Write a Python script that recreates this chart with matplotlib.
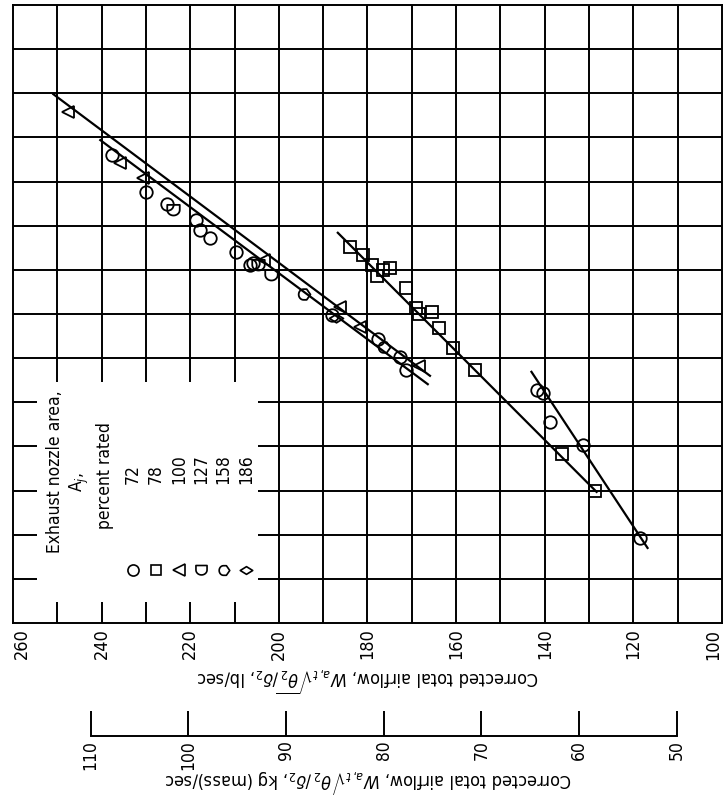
import matplotlib
matplotlib.use("Agg")
import matplotlib.pyplot as plt
import numpy as np
from matplotlib import font_manager
from matplotlib.path import Path

# pick a narrow face if one is installed, the scan uses a condensed type
_faces = font_manager.fontManager.ttflist
_names = {f.name for f in _faces}
if "Liberation Sans Narrow" in _names:
    plt.rcParams["font.family"] = ["Liberation Sans Narrow", "DejaVu Sans"]
else:
    plt.rcParams["font.family"] = ["DejaVu Sans"]
    plt.rcParams["font.stretch"] = "condensed"

LB_PER_KG = 2.2046

# Data: corrected airflow (lb/sec) vs ordinate in grid units
circ_x = [237.6, 229.9, 225.2, 218.6, 217.7, 215.5, 209.6, 206.5, 205.8, 188.0, 177.7, 172.7, 171.4]
circ_y = [10.60, 9.76, 9.49, 9.13, 8.90, 8.72, 8.41, 8.11, 8.16, 6.98, 6.43, 6.03, 5.73]
circ2_x = [141.8, 140.5, 138.9, 131.3, 118.6]
circ2_y = [5.28, 5.21, 4.55, 4.03, 1.93]
sq_x = [184.0, 181.0, 179.0, 177.9, 176.5, 175.0, 171.4, 169.1, 168.4, 165.5, 163.9, 160.8, 155.8, 136.0, 128.6]
sq_y = [8.52, 8.34, 8.11, 7.86, 8.00, 8.04, 7.59, 7.14, 7.00, 7.05, 6.68, 6.23, 5.73, 3.83, 2.99]
tri_x = [247.7, 235.8, 230.6, 203.3, 186.2, 181.7, 168.4]
tri_y = [11.58, 10.42, 10.08, 8.22, 7.16, 6.71, 5.82]
d127_x = [223.8, 204.7, 201.8]
d127_y = [9.36, 8.11, 7.88]
hex158_x = [194.5, 176.5]
hex158_y = [7.45, 6.25]
dia186_x = [187.0]
dia186_y = [6.90]

# faired curves (end points)
fair_a_x, fair_a_y = [250.9, 165.9], [11.98, 5.60]
fair_b_x, fair_b_y = [240.3, 166.4], [10.94, 5.41]
fair_c_x, fair_c_y = [186.7, 128.3], [8.84, 2.97]
fair_d_x, fair_d_y = [143.0, 116.8], [5.69, 1.70]

legend_labels = ["72", "78", "100", "127", "158", "186"]
lb_ticks = list(range(100, 261, 20))
kg_ticks = list(range(50, 111, 10))


def d_marker():
    t = np.linspace(0, -np.pi, 20)
    verts = [(-1, 0.9), (1, 0.9)] + list(zip(np.cos(t), 0.1 + 0.9 * np.sin(t)))
    verts.append((-1, 0.9))
    return Path(verts, closed=True)


def hex_marker():
    t = np.linspace(np.pi / 2, 3 * np.pi / 2, 20)
    verts = list(zip(0.9 * np.cos(t), np.sin(t))) + [(0.6, -1), (1.3, 0), (0.6, 1), (0, 1)]
    return Path(verts, closed=True)


def diamond_marker():
    return Path([(-1.3, 0), (0, 0.8), (1.3, 0), (0, -0.8), (-1.3, 0)], closed=True)


markers = ["o", "s", "<", d_marker(), hex_marker(), diamond_marker()]
sizes = [9, 8, 9, 9, 10, 10]

W, H = 723, 795
fig = plt.figure(figsize=(W / 100, H / 100), dpi=100)
left, right, top, bottom = 13, 722, 5, 623
ax = fig.add_axes([left / W, 1 - bottom / H, (right - left) / W, (bottom - top) / H])
ax.set_xlim(260, 100)
ax.set_ylim(0, 14)

lw = 1.4
# grid, with the legend box kept clear except edge stubs
for gx in range(110, 260, 10):
    if gx > 200:
        ax.vlines(gx, 6, 14, color="k", lw=lw)
        ax.vlines(gx, 0, 0.48, color="k", lw=lw)
        ax.vlines(gx, 5.45, 6, color="k", lw=lw)
    else:
        ax.vlines(gx, 0, 14, color="k", lw=lw)
for gy in range(1, 14):
    if gy < 6:
        ax.hlines(gy, 200, 100, color="k", lw=lw)
        ax.hlines(gy, 260, 254.6, color="k", lw=lw)
        ax.hlines(gy, 204.7, 200, color="k", lw=lw)
    else:
        ax.hlines(gy, 260, 100, color="k", lw=lw)

for sp in ax.spines.values():
    sp.set_linewidth(lw)

for fx, fy in [(fair_a_x, fair_a_y), (fair_b_x, fair_b_y), (fair_c_x, fair_c_y), (fair_d_x, fair_d_y)]:
    ax.plot(fx, fy, color="k", lw=1.6, zorder=3)

series = [
    (circ_x + circ2_x, circ_y + circ2_y, 0),
    (sq_x, sq_y, 1),
    (tri_x, tri_y, 2),
    (d127_x, d127_y, 3),
    (hex158_x, hex158_y, 4),
    (dia186_x, dia186_y, 5),
]
for xs, ys, i in series:
    ax.plot(xs, ys, ls="none", marker=markers[i], ms=sizes[i], mfc="none",
            mec="k", mew=1.3, zorder=4)

ax.set_xticks(lb_ticks)
ax.set_xticklabels([str(v) for v in lb_ticks], rotation=90, fontsize=13)
ax.tick_params(axis="x", length=0, pad=4)
ax.get_xticklabels()[0].set_horizontalalignment("right")
ax.get_xticklabels()[-1].set_horizontalalignment("left")
ax.set_yticks([])

# legend (rotated like the rest of the sheet)
fig.text(55 / W, 1 - 472 / H, "Exhaust nozzle area,", rotation=90, ha="center", va="center", fontsize=12.5)
fig.text(79 / W, 1 - 482 / H, r"A$_j$,", rotation=90, ha="center", va="center", fontsize=12.5)
fig.text(105 / W, 1 - 476 / H, "percent rated", rotation=90, ha="center", va="center", fontsize=12.5)
leg_x = [133, 156, 179, 201, 223, 246]
for i, lab in enumerate(legend_labels):
    fig.text(leg_x[i] / W, 1 - 484 / H, lab, rotation=90, rotation_mode="anchor",
             ha="left", va="center", fontsize=12.5)
    ax.plot([(leg_x[i] - left) / (right - left)], [(bottom - 570) / (bottom - top)],
            transform=ax.transAxes, ls="none", marker=markers[i], ms=sizes[i] - 1,
            mfc="none", mec="k", mew=1.2, clip_on=False)

fig.text(368 / W, 1 - 680 / H, r"Corrected total airflow, $W_{a,t}\sqrt{\theta_2}/\delta_2$, lb/sec",
         rotation=180, ha="center", va="center", fontsize=13)

# secondary kg/sec scale
ax2 = fig.add_axes([left / W, 1 - 736 / H, (right - left) / W, 0.0001])
ax2.set_xlim(260 / LB_PER_KG, 100 / LB_PER_KG)
ax2.set_ylim(0, 1)
for name in ["top", "left", "right"]:
    ax2.spines[name].set_visible(False)
ax2.spines["bottom"].set_bounds(50, 110)
ax2.spines["bottom"].set_linewidth(lw)
ax2.set_yticks([])
ax2.set_xticks(kg_ticks)
ax2.set_xticklabels([str(v) for v in kg_ticks], rotation=90, fontsize=12.5)
ax2.tick_params(axis="x", direction="in", length=18, width=lw, pad=3)
ax2.patch.set_visible(False)

fig.text(368 / W, 1 - 782 / H, r"Corrected total airflow, $W_{a,t}\sqrt{\theta_2}/\delta_2$, kg (mass)/sec",
         rotation=180, ha="center", va="center", fontsize=13)

fig.savefig("out.png", dpi=100)
